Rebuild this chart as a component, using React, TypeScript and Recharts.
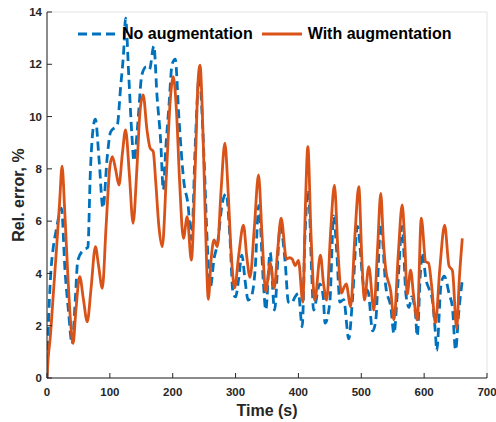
import React from 'react';
import { LineChart, Line, XAxis, YAxis, CartesianGrid, Legend } from 'recharts';

const withT = [0,2,5,10,15,20,24,28,33,38,41.5,46,52,58,64,70,77,82,88,94,100,104,109,114.5,120,125,131,137,143,148,153,159,164,169,173,178,183.4,190,196,201,206,211,217,223,229.6,236,240,243.4,248,252,256.7,261,265.7,271,277,283,288,293,298.5,305,312.5,318,323,330,336.5,342,348,355,361.5,367,372.5,381,386,390,395,400,407,411,415,420,426,435,440,445,451,457.3,463,468.5,472,476,483,490,496,501,505,512,520,526,531,535,539,547,552,559,565,569,573,578.5,583,589,595.5,602.5,607,612,618,625,632.6,639.5,645,651.7,656,660.7];
const withV = [0,0.8,1.5,3.2,4.9,6.7,8.1,6.5,4.0,2.0,1.33,2.6,3.88,3.0,2.15,3.4,5.02,4.3,3.43,5.8,8.08,8.47,8.0,7.38,8.6,9.49,7.8,5.92,8.0,10.2,10.83,9.5,8.8,8.66,7.5,5.8,5.02,7.8,10.6,11.53,10.2,7.5,5.34,6.17,4.51,8.2,11.2,11.97,9.5,6.0,3.01,4.5,5.28,5.02,7.2,8.98,7.2,4.8,3.45,4.7,5.85,4.6,3.85,5.8,7.77,5.5,3.3,4.4,3.43,4.9,6.11,4.55,4.6,4.55,4.3,4.5,2.9,6.5,8.85,5.5,2.98,4.7,3.6,2.98,5.5,7.38,4.8,3.25,3.44,3.6,2.73,5.5,7.32,4.5,2.98,4.26,2.6,5.0,7.06,5.3,4.13,3.3,2.22,4.8,6.62,5.3,3.2,4.13,3.2,2.22,6.11,4.45,4.4,3.5,2.1,4.2,5.85,4.3,4.1,1.9,3.8,5.34];

const noT = [0,3,6,10,15,19,23,28.6,34,40,45,49,58,65,69,75,77,83,89,96,101,112,117,122,125,130,135,138.4,144,151,158,163,170,175,181,185,189,194,199,204,210,218,224,230,236,242,250,255,260,266,271,279,285,291,296,300,305,310,315,320,325,331,337,344,348,355,362,371,379,384,389,394.5,400,406,410.4,415.7,421,424,434,439.5,442.3,450,456,461,466,472,480,486,494,504,511,518,523,531,539,547,552,558,565,571,576,580,586,589,594,597,603,608,613,618,620,627,632,640,645,650,655,661];
const noV = [0,2.5,4.0,5.0,5.7,6.2,6.5,4.13,2.6,1.3,3.0,4.5,4.9,5.0,7.9,9.8,9.9,8.3,6.5,8.5,9.4,9.7,11.1,12.5,13.76,11.6,9.3,8.3,9.6,11.6,11.9,11.8,12.7,10.8,9.0,7.2,8.8,10.4,12.0,12.2,9.9,7.45,6.7,5.3,9.0,11.5,8.3,5.15,3.5,4.6,5.1,6.7,7.05,5.4,3.24,3.1,3.8,4.7,3.75,2.98,3.1,4.1,6.6,3.75,2.6,4.8,2.6,5.8,4.4,2.9,2.86,3.1,3.24,1.96,5.4,7.2,4.1,2.6,3.6,3.1,2.1,2.9,6.2,4.8,2.9,3.0,1.5,3.0,5.8,3.5,3.3,1.8,2.2,5.9,3.5,2.7,1.7,3.5,5.8,3.2,2.7,3.1,2.5,1.6,4.0,4.8,3.75,3.4,3.0,1.7,1.05,3.6,3.9,3.2,2.7,1.07,2.5,3.8];

const xTicks = [0,100,200,300,400,500,600,700];
const yTicks = [0,2,4,6,8,10,12,14];
const seriesNames = ['No augmentation', 'With augmentation'];

const withData = withT.map((t, i) => ({ t, v: withV[i] }));
const noData = noT.map((t, i) => ({ t, v: noV[i] }));

const FONT = '"Liberation Sans", Arial, sans-serif';
const BLUE = '#0072BD';
const ORANGE = '#D95319';
const AX = '#262626';

const tickStyle = { fontFamily: FONT, fontWeight: 700, fontSize: 11.5, fill: AX };

const LegendContent = () => (
  <div style={{ display: 'flex', alignItems: 'center', fontFamily: FONT, fontWeight: 700, fontSize: 16, color: '#000', whiteSpace: 'nowrap' }}>
    <svg width={40} height={10} style={{ marginRight: 4 }}>
      <line x1={0} y1={5} x2={38} y2={5} stroke={BLUE} strokeWidth={2.8} strokeDasharray="9 5" />
    </svg>
    <span>{seriesNames[0]}</span>
    <svg width={42} height={10} style={{ marginLeft: 9, marginRight: 4 }}>
      <line x1={0} y1={5} x2={40} y2={5} stroke={ORANGE} strokeWidth={2.8} />
    </svg>
    <span>{seriesNames[1]}</span>
  </div>
);

export default function App() {
  return (
    <div style={{ position: 'absolute', left: 0, top: 0, width: 496, height: 422, background: '#fff' }}>
      <LineChart width={496} height={422} margin={{ top: 12, right: 9, bottom: 0, left: 0 }}>
        <CartesianGrid stroke="#e3e3e3" strokeWidth={1} />
        <XAxis
          xAxisId="b"
          type="number"
          dataKey="t"
          domain={[0, 700]}
          ticks={xTicks}
          height={44}
          stroke={AX}
          tick={tickStyle}
          tickSize={-5}
          tickMargin={15}
          allowDataOverflow
          label={{ value: 'Time (s)', position: 'insideBottom', offset: 6, style: { fontFamily: FONT, fontWeight: 700, fontSize: 16, fill: AX } }}
        />
        <XAxis
          xAxisId="t"
          orientation="top"
          type="number"
          dataKey="t"
          domain={[0, 700]}
          ticks={xTicks}
          height={0}
          stroke={AX}
          tickSize={-5}
          tickFormatter={() => ''}
        />
        <YAxis
          yAxisId="l"
          type="number"
          domain={[0, 14]}
          ticks={yTicks}
          width={47}
          stroke={AX}
          tick={tickStyle}
          tickSize={-5}
          tickMargin={10}
          allowDataOverflow
          label={{ value: 'Rel. error, %', angle: -90, position: 'insideLeft', offset: 18, style: { textAnchor: 'middle', fontFamily: FONT, fontWeight: 700, fontSize: 16, fill: AX } }}
        />
        <YAxis
          yAxisId="r"
          orientation="right"
          type="number"
          domain={[0, 14]}
          ticks={yTicks}
          width={0}
          stroke={AX}
          tickSize={-5}
          tickFormatter={() => ''}
        />
        <Legend verticalAlign="middle" layout="horizontal" content={LegendContent} wrapperStyle={{ position: 'absolute', top: 25, left: 78, width: 'auto' }} />
        <Line xAxisId="b" yAxisId="l" data={noData} dataKey="v" name={seriesNames[0]} type="monotone" stroke={BLUE} strokeWidth={2.8} strokeDasharray="9 5" dot={false} isAnimationActive={false} />
        <Line xAxisId="b" yAxisId="l" data={withData} dataKey="v" name={seriesNames[1]} type="monotone" stroke={ORANGE} strokeWidth={2.8} dot={false} isAnimationActive={false} />
      </LineChart>
    </div>
  );
}
